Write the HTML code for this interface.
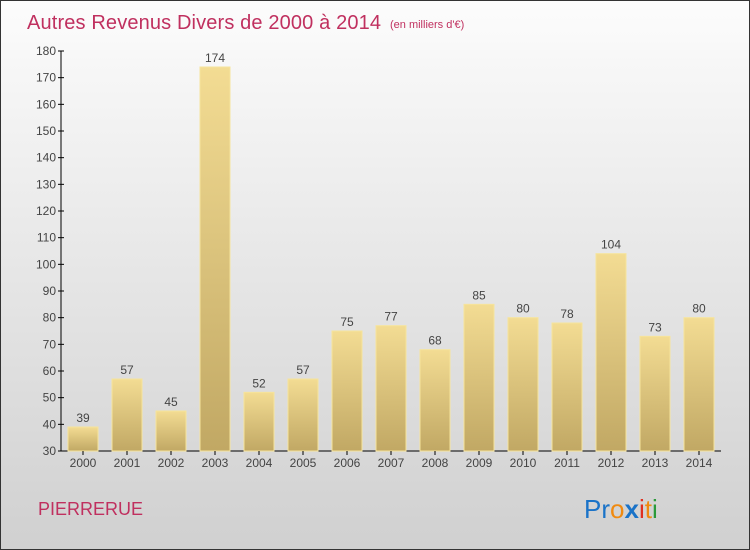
<!DOCTYPE html>
<html><head><meta charset="utf-8"><style>
body{margin:0;}
#c{width:748px;height:548px;border:1px solid #333;background:linear-gradient(#fcfcfc,#d0d0d0);position:relative;overflow:hidden;font-family:"Liberation Sans",sans-serif;}
</style></head><body>
<div id="c">
<svg id="s" width="748" height="548" style="position:absolute;left:0;top:0">
<defs><linearGradient id="g" x1="0" y1="0" x2="0" y2="1"><stop offset="0" stop-color="#f3dc93"/><stop offset="1" stop-color="#c1a864"/></linearGradient></defs>
<text x="26" y="28" font-size="20" fill="#c0305f" textLength="354">Autres Revenus Divers de 2000 à 2014</text>
<text x="389" y="27" font-size="11" fill="#c0305f">(en milliers d'€)</text>
<text x="37" y="514" font-size="18" fill="#c0305f">PIERRERUE</text>
<text x="583" y="517" font-size="26"><tspan fill="#1a73c8">Pr</tspan><tspan fill="#f08a10">o</tspan><tspan fill="#1a73c8" font-weight="bold">x</tspan><tspan fill="#e03020">i</tspan><tspan fill="#f08a10">t</tspan><tspan fill="#2a9a3a">i</tspan></text>
</svg>
</div>
<script>
const years=["2000","2001","2002","2003","2004","2005","2006","2007","2008","2009","2010","2011","2012","2013","2014"];
const values=[39,57,45,174,52,57,75,77,68,85,80,78,104,73,80];
const ticks=[30,40,50,60,70,80,90,100,110,120,130,140,150,160,170,180];
const s=document.getElementById('s'),NS='http://www.w3.org/2000/svg';
const y=v=>450-(v-30)*400/150, x=i=>82+i*44;
function mk(t,a,p){const e=document.createElementNS(NS,t);for(const k in a)e.setAttribute(k,a[k]);(p||s).appendChild(e);return e;}
let ax=mk('line',{x1:60,y1:50,x2:60,y2:450,stroke:'#000'});


let bx=mk('line',{x1:60,y1:450,x2:720,y2:450,stroke:'#000'});


ticks.forEach(t=>{
 mk('line',{x1:57,y1:y(t),x2:63,y2:y(t),stroke:'#000'});
 const l=mk('text',{x:55,y:y(t)+4,'font-size':12,fill:'#444','text-anchor':'end'});l.textContent=t;
 
 
});
values.forEach((v,i)=>{
 const r=mk('rect',{x:x(i)-15,y:y(v),width:30,height:450-y(v),fill:'url(#g)',stroke:'#f6e49c','stroke-width':1});
 
 
 const t=mk('text',{x:x(i),y:y(v)-5,'font-size':12,fill:'#444','text-anchor':'middle'});t.textContent=v;
 
 
 mk('line',{x1:x(i),y1:450,x2:x(i),y2:454,stroke:'#000'});
 const yl=mk('text',{x:x(i),y:466,'font-size':12,fill:'#444','text-anchor':'middle'});yl.textContent=years[i];
 
 
});
</script>
</body></html>
